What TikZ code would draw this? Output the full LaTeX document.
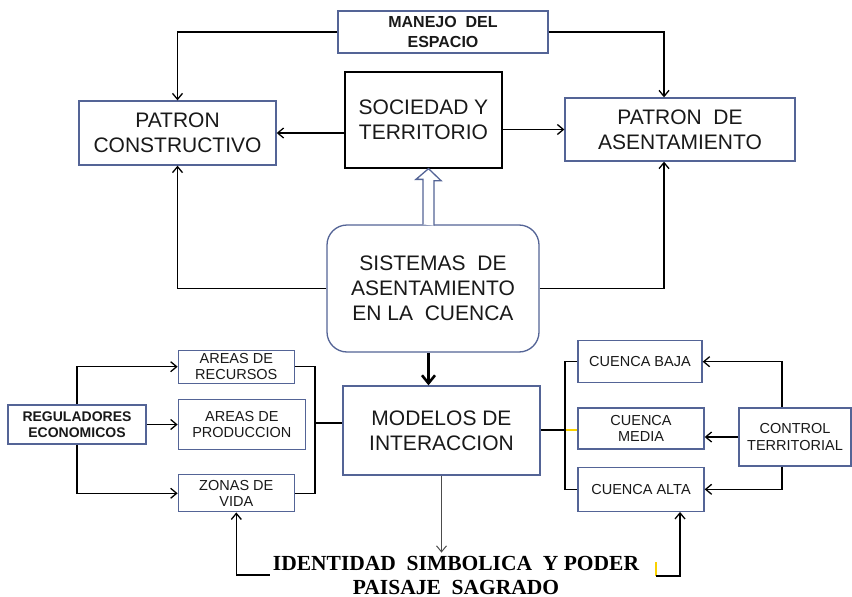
\documentclass[tikz,border=0pt]{standalone}
\usepackage{fontspec}
\setmainfont{Liberation Serif}
\setsansfont{Liberation Sans}
\usetikzlibrary{arrows.meta,positioning,calc}
\definecolor{boxblue}{RGB}{84,100,150}
\definecolor{tickyellow}{RGB}{250,210,0}

\begin{document}
\begin{tikzpicture}[x=1pt, y=-1pt,
  box/.style 2 args={rectangle, draw=boxblue, line width=1.3pt, fill=white,
                     align=center, inner sep=0pt, text=black!90,
                     minimum width=#1, minimum height=#2},
  big/.style={font=\sffamily\fontsize{21}{25}\selectfont},
  small/.style={font=\sffamily\fontsize{14.5}{16.5}\selectfont},
  smallbf/.style={font=\sffamily\bfseries\fontsize{14}{16}\selectfont},
  arrow/.style={-{Straight Barb[length=6pt,width=10pt]}, line width=1.3pt},
  link/.style={line width=1.3pt}
]
  \useasboundingbox (0,0) rectangle (852,597);

  % upper part
  \node[box={210pt}{42pt}, font=\sffamily\bfseries\fontsize{16}{20.5}\selectfont] (manejo) at (443,32) {MANEJO\ \ DEL\\ESPACIO};
  \node[box={157pt}{96pt}, draw=black, big] (sociedad) at (423.5,120) {SOCIEDAD Y\\TERRITORIO};
  \node[box={197pt}{64pt}, big] (constr) at (177.5,133) {PATRON\\CONSTRUCTIVO};
  \node[box={230pt}{63pt}, big] (asent) at (680,129.5) {PATRON\ \ DE\\ASENTAMIENTO};
  \node[box={212pt}{127pt}, rounded corners=20pt, big] (sistemas) at (433,288.5) {SISTEMAS\ \ DE\\ASENTAMIENTO\\EN LA\ \ CUENCA};
  \node[box={197pt}{89pt}, big] (modelos) at (441.5,430.5) {MODELOS DE\\INTERACCION};

  % left group
  \node[box={138pt}{39pt}, smallbf] (regul) at (77,424.5) {REGULADORES\\ECONOMICOS};
  \node[box={127pt}{50pt}, small, right=31pt of regul] (produccion) {AREAS DE\\PRODUCCION};
  \node[box={116pt}{33pt}, small, above right=15pt and 0pt of produccion.north west] (recursos) {AREAS DE\\RECURSOS};
  \node[box={116pt}{37pt}, small, below right=24pt and 0pt of produccion.south west] (zonas) {ZONAS DE\\VIDA};

  % right group
  \node[box={126pt}{41pt}, small] (media) at (641,428.5) {CUENCA\\MEDIA};
  \node[box={124pt}{42pt}, small, above right=24pt and 0pt of media.north west] (baja) {CUENCA BAJA};
  \node[box={126pt}{44pt}, small, below right=17pt and 0pt of media.south west] (alta) {CUENCA ALTA};
  \node[box={112pt}{58pt}, small] (control) at (795,437) {CONTROL\\TERRITORIAL};

  \node[font=\rmfamily\bfseries\fontsize{21.5}{24}\selectfont, align=center, inner sep=3pt] (identidad) at (456,575)
    {IDENTIDAD\ \ SIMBOLICA\ \ Y PODER\\PAISAJE\ \ SAGRADO};

  \coordinate (hs) at ([xshift=-4.5pt]sistemas.north);
  \coordinate (busL) at (315,423);
  \coordinate (busR) at (565,430);
  \coordinate (tick) at (656,576);

  % connectors
  \draw[arrow] (manejo.west) -| (constr.north);
  \draw[arrow] (manejo.east) -| ([xshift=-16pt]asent.north);
  \draw[arrow] (sociedad.west |- constr.east) -- (constr.east);
  \draw[arrow] (sociedad.east |- asent.west) -- (asent.west);
  \draw[arrow] (sistemas.west) -| (constr.south);
  \draw[arrow] (sistemas.east) -| ([xshift=-16pt]asent.south);
  \draw[boxblue, line width=1.3pt, fill=white, line join=miter]
    ([xshift=-5.5pt]hs) -- ++(0,-45) -- ++(-7,0) -- (hs |- sociedad.south)
    -- ++(12.5,12) -- ++(-7,0) -- ++(0,45);
  \draw[-{Straight Barb[length=8pt,width=13pt]}, line width=2.6pt] (hs |- sistemas.south) -- (hs |- modelos.north);

  \draw[arrow] (regul.east) -- (regul.east -| produccion.west);
  \draw[arrow] (regul.north) |- (recursos.west);
  \draw[arrow] (regul.south) |- (zonas.west);
  \draw[link] (recursos.east) -| (busL) |- (zonas.east);
  \draw[link] (busL) -- (busL -| modelos.west);

  \draw[tickyellow, line width=1.4pt] (busR) -- (busR -| media.west);
  \draw[link] (modelos.east |- busR) -- (busR);
  \draw[link] (baja.west) -| (busR) |- (alta.west);
  \draw[arrow] ([xshift=-13pt]control.north) |- (baja.east);
  \draw[arrow] (control.west) -- (control.west -| media.east);
  \draw[arrow] ([xshift=-13pt]control.south) |- (alta.east);

  \draw[arrow, black!70, line width=1pt] (modelos.south) -- (modelos.south |- identidad.north);
  \draw[arrow] (identidad.west) -| (zonas.south);
  \draw[tickyellow, line width=1.4pt] (tick) -- ++(0,-14);
  \draw[arrow] (tick) -| ([xshift=39pt]alta.south);
\end{tikzpicture}
\end{document}
